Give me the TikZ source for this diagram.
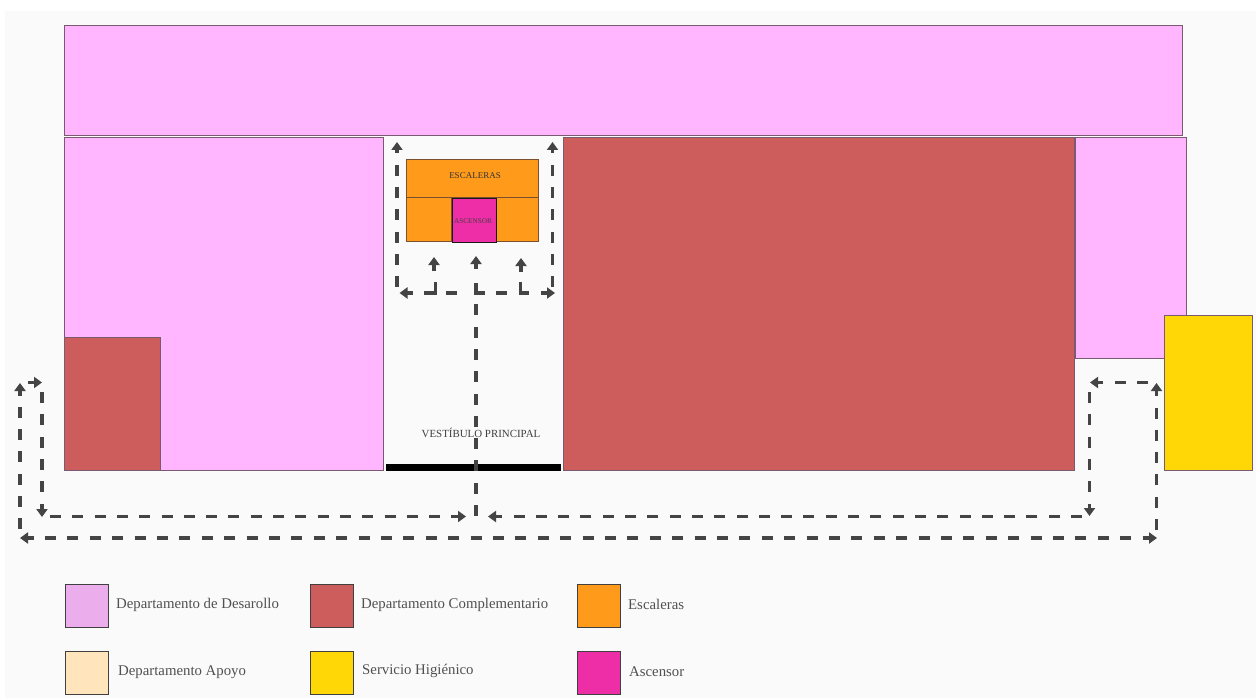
\documentclass[tikz,border=0pt]{standalone}
\usepackage{fontspec}
\setmainfont{Liberation Serif}
\usetikzlibrary{arrows.meta}
\definecolor{bgc}{HTML}{FAFAFA}
\definecolor{pinkc}{HTML}{FFB6FF}
\definecolor{redc}{HTML}{CD5C5C}
\definecolor{yelc}{HTML}{FFD707}
\definecolor{orac}{HTML}{FF9A1B}
\definecolor{magc}{HTML}{EE2EA6}
\definecolor{lpink}{HTML}{EBADEB}
\definecolor{cream}{HTML}{FFE4BC}
\definecolor{routec}{HTML}{444444}
\definecolor{edgec}{HTML}{7A5A70}
\definecolor{stairc}{HTML}{7A5030}
\definecolor{legt}{HTML}{505050}
\tikzset{
  room/.style={draw=edgec,line width=0.9pt,anchor=north west,inner sep=0pt,outer sep=0pt},
  swatch/.style={draw=black!75,line width=1pt,anchor=north west,inner sep=0pt,outer sep=0pt,minimum width=43pt,minimum height=43pt},
  legtext/.style={anchor=west,inner sep=0pt,text=legt,font=\fontsize{14.8}{17}\selectfont},
  route/.style={draw=routec,line width=3.4pt,dash pattern=on 11pt off 11.3pt},
  longroute/.style={draw=routec,line width=3.4pt,dash pattern=on 11pt off 11.4pt},
  plain/.style={draw=routec,line width=3.4pt,solid},
  tipped/.style={-{Triangle[length=8pt,width=11pt]}},
  biarrow/.style={{Triangle[length=8pt,width=11pt]}-{Triangle[length=8pt,width=11pt]}},
}
\newcommand{\roomat}[6]{\node[room,fill=#2,minimum width=#5pt-#3pt,minimum height=#6pt-#4pt] (#1) at (#3-0.5,#4-0.5) {};}
\begin{document}
\begin{tikzpicture}[x=1pt,y=-1pt]
\useasboundingbox (0,0) rectangle (1256,698);
\fill[white] (0,0) rectangle (1256,698);
\fill[bgc] (5,11) rectangle (1256,698);
% rooms
\roomat{top}{pinkc}{65}{26}{1183}{136}
\roomat{left}{pinkc}{65}{138}{384}{471}
\roomat{leftred}{redc}{65}{338}{161}{471}
\roomat{main}{redc}{564}{138}{1075}{471}
\roomat{rightp}{pinkc}{1076}{138}{1187}{359}
\roomat{wc}{yelc}{1165}{316}{1253}{471}
\tikzset{room/.append style={draw=stairc}}
\roomat{stairtop}{orac}{407}{160}{539}{198}
\roomat{stairl}{orac}{407}{198}{452}{242}
\roomat{stairr}{orac}{496}{198}{539}{242}
\node[room,fill=magc,draw=black!90,line width=1pt,minimum width=44pt,minimum height=44pt] (lift) at (452,198) {};
\node[room,fill=black,draw=none,minimum width=175pt,minimum height=7pt] (door) at (386,464) {};
% routes inside the hall
\coordinate (vlt) at (397,142);
\coordinate (vlb) at (397,290);
\coordinate (vrt) at (552.5,142);
\coordinate (vrb) at (552.5,290);
\coordinate (c1) at (476,294);
\coordinate (c2) at (476,516);
\draw[route,dash phase=7pt,{Triangle[length=8pt,width=11pt]}-] (vlt) -- (vlb);
\draw[route,dash phase=7pt,{Triangle[length=8pt,width=11pt]}-] (vrt) -- (vrb);
\draw[route] (c2) -- (c1);
\draw[plain,{Triangle[length=8pt,width=11pt]}-] (399.5,293) -- (413,293);
\draw[plain] (424,293) -- (435.5,293) -- (435.5,282);
\draw[plain] (446,293) -- (457,293);
\draw[plain] (476,283) -- (476,293) -- (485,293);
\draw[plain] (496,293) -- (507,293);
\draw[plain] (520.5,282) -- (520.5,293) -- (529,293);
\draw[plain,tipped] (541,293) -- (555,293);
\draw[plain,tipped] (434,271) -- (434,257);
\draw[plain,tipped] (476,269) -- (476,256);
\draw[plain,tipped] (521,272) -- (521,258);
% routes round the building
\coordinate (o1) at (20,538);
\coordinate (o2) at (1157,538);
\coordinate (o3) at (20,383);
\coordinate (o4) at (20,531);
\coordinate (b1) at (50,516.5);
\coordinate (b2) at (466,516.5);
\coordinate (b3) at (1082,516.5);
\coordinate (b4) at (488,516.5);
\coordinate (lv1) at (42,392);
\coordinate (lv2) at (42,517);
\coordinate (la1) at (28,382.5);
\coordinate (la2) at (42,382.5);
\coordinate (rv1) at (1156.5,530);
\coordinate (rv2) at (1156.5,383);
\coordinate (r1) at (1148,382.5);
\coordinate (r2) at (1090,382.5);
\coordinate (r3) at (1089.5,392);
\coordinate (r4) at (1089.5,516);
\draw[longroute,dash phase=5pt,biarrow] (o1) -- (o2);
\draw[route,dash phase=6pt,{Triangle[length=8pt,width=11pt]}-] (o3) -- (o4);
\draw[route,tipped] (b1) -- (b2);
\draw[route,tipped] (b3) -- (b4);
\draw[route,tipped] (lv1) -- (lv2);
\draw[plain,tipped] (la1) -- (la2);
\draw[route,tipped] (rv1) -- (rv2);
\draw[route,tipped] (r1) -- (r2);
\draw[route,tipped] (r3) -- (r4);
% labels
\node[inner sep=0pt,text=black!80,font=\fontsize{9}{11}\selectfont] (ltop) at (475,176) {ESCALERAS};
\node[inner sep=0pt,text=black!75,font=\fontsize{7.2}{8}\selectfont] (llift) at (473,221) {ASCENSOR};
\node[inner sep=0pt,text=black!75,font=\fontsize{10.9}{12}\selectfont] (lhall) at (481,433) {VESTÍBULO PRINCIPAL};
% legend
\node[swatch,fill=lpink] (k1) at (65,584) {};
\node[swatch,fill=redc] (k2) at (310,584) {};
\node[swatch,fill=orac] (k3) at (577,584) {};
\node[swatch,fill=cream] (k4) at (65,651) {};
\node[swatch,fill=yelc] (k5) at (310,651) {};
\node[swatch,fill=magc] (k6) at (577,651) {};
\node[legtext] (t1) at (116,605) {Departamento de Desarollo};
\node[legtext] (t2) at (361,604.5) {Departamento Complementario};
\node[legtext] (t3) at (628,604.5) {Escaleras};
\node[legtext] (t4) at (118,672) {Departamento Apoyo};
\node[legtext] (t5) at (362,671) {Servicio Higiénico};
\node[legtext] (t6) at (629,672) {Ascensor};
\end{tikzpicture}
\end{document}
